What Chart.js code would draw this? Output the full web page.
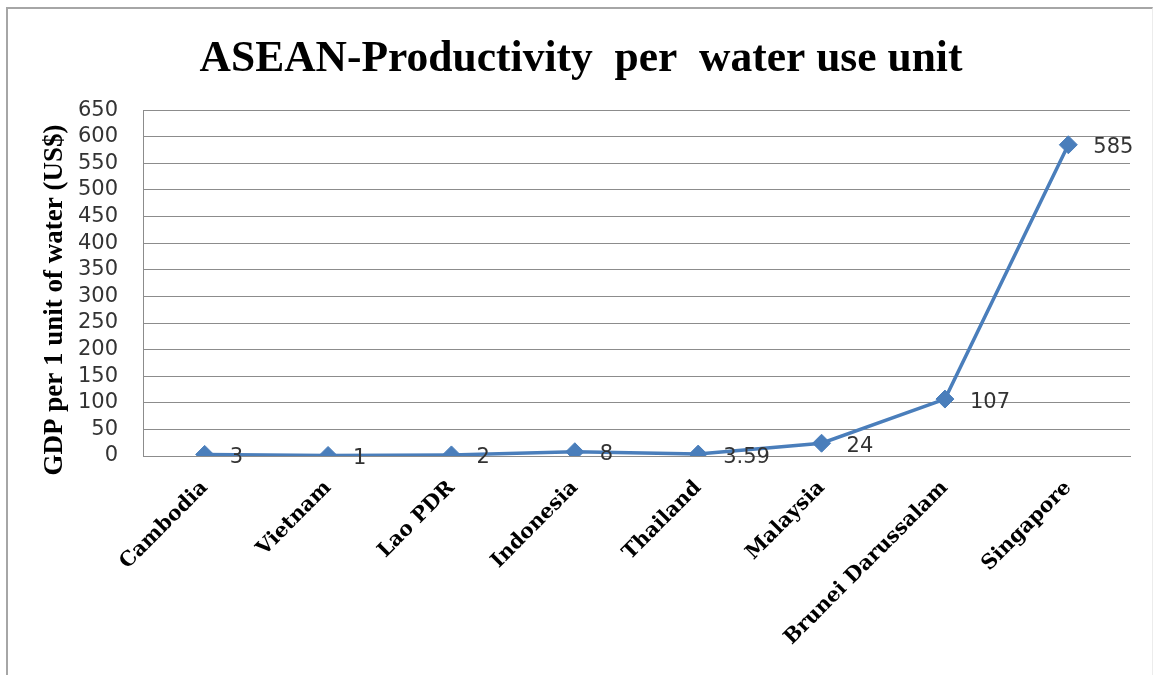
<!DOCTYPE html>
<html>
<head>
<meta charset="utf-8">
<script src="https://cdn.jsdelivr.net/npm/chart.js@4.4.0/dist/chart.umd.min.js"></script>
<style>
    html, body { margin: 0; padding: 0; background: #ffffff; }
    #wrap { position: relative; width: 1158px; height: 675px; }
    #frame {
        position: absolute; left: 6px; top: 7px; width: 1144px; height: 670px;
        border-left: 2px solid #a6a6a6; border-top: 2px solid #a6a6a6; border-right: 1px solid #ececec;
        pointer-events: none;
    }
    canvas { position: absolute; left: 0; top: 0; }
</style>
</head>
<body>
<div id="wrap">
    <div id="frame"></div>
    <canvas id="lineChart" width="1158" height="675"></canvas>
</div>
<script>
// Dữ liệu
const countries = ["Cambodia", "Vietnam", "Lao PDR", "Indonesia", "Thailand", "Malaysia", "Brunei Darussalam", "Singapore"];
const productivity = [3, 1, 2, 8, 3.59, 24, 107, 585];
const valueLabels = ["3", "1", "2", "8", "3.59", "24", "107", "585"];
const yMin = 0, yMax = 650, yStep = 50;

const lineColor = '#4a7ebb';
const gridColor = '#8c8c8c';

// Ghi giá trị bên phải mỗi điểm
const pointLabelPlugin = {
    id: 'pointLabels',
    afterDatasetsDraw(chart) {
        const ctx = chart.ctx;
        const meta = chart.getDatasetMeta(0);
        ctx.save();
        ctx.font = '21px "DejaVu Sans"';
        ctx.fillStyle = '#333333';
        ctx.textAlign = 'left';
        ctx.textBaseline = 'middle';
        meta.data.forEach((pt, i) => {
            ctx.fillText(valueLabels[i], pt.x + 25, pt.y + 3);
        });
        ctx.restore();
    }
};

const ctx = document.getElementById('lineChart').getContext('2d');
window.myChart = new Chart(ctx, {
    type: 'line',
    data: {
        labels: countries,
        datasets: [{
            label: 'GDP per 1 unit of water',
            data: productivity,
            borderColor: lineColor,
            backgroundColor: lineColor,
            borderWidth: 3.5,
            pointStyle: 'rectRot',
            pointRadius: 9,
            pointBorderWidth: 1,
            pointBackgroundColor: lineColor,
            pointBorderColor: lineColor,
            tension: 0
        }]
    },
    options: {
        responsive: false,
        animation: false,
        // lệch trái một chút để tiêu đề nằm đúng chỗ như hình gốc
        layout: { padding: { left: 32, right: 28, top: 0, bottom: 0 } },
        plugins: {
            legend: { display: false },
            tooltip: { enabled: false },
            title: {
                display: true,
                text: 'ASEAN-Productivity  per  water use unit',
                color: '#000000',
                font: { family: '"Liberation Serif", "Times New Roman", serif', size: 43.5, weight: 'bold', lineHeight: 1.2 },
                padding: { top: 34, bottom: 24 }
            }
        },
        scales: {
            x: {
                offset: true,
                grid: { display: false, drawTicks: false },
                border: { display: true, color: gridColor, width: 1 },
                ticks: {
                    minRotation: 45,
                    maxRotation: 45,
                    autoSkip: false,
                    padding: 20,
                    color: '#000000',
                    font: { family: '"DejaVu Serif", serif', size: 20.5, weight: 'bold' }
                },
                afterFit(scale) { scale.height = 219; }
            },
            y: {
                min: yMin,
                max: yMax,
                grid: { color: gridColor, lineWidth: 1, drawTicks: false },
                border: { display: true, color: gridColor, width: 1 },
                ticks: {
                    stepSize: yStep,
                    autoSkip: false,
                    padding: 25,
                    color: '#333333',
                    font: { family: '"DejaVu Sans", sans-serif', size: 21 }
                },
                title: {
                    display: true,
                    // khoảng trắng cuối để đẩy chữ xuống giống hình gốc
                    text: 'GDP per 1 unit of water (US$)     ',
                    color: '#000000',
                    font: { family: '"Liberation Serif", "Times New Roman", serif', size: 27, weight: 'bold', lineHeight: 1.2 },
                    padding: { top: 7, bottom: 0 }
                },
                afterFit(scale) { scale.width = 111; }
            }
        }
    },
    plugins: [pointLabelPlugin]
});
</script>
</body>
</html>
